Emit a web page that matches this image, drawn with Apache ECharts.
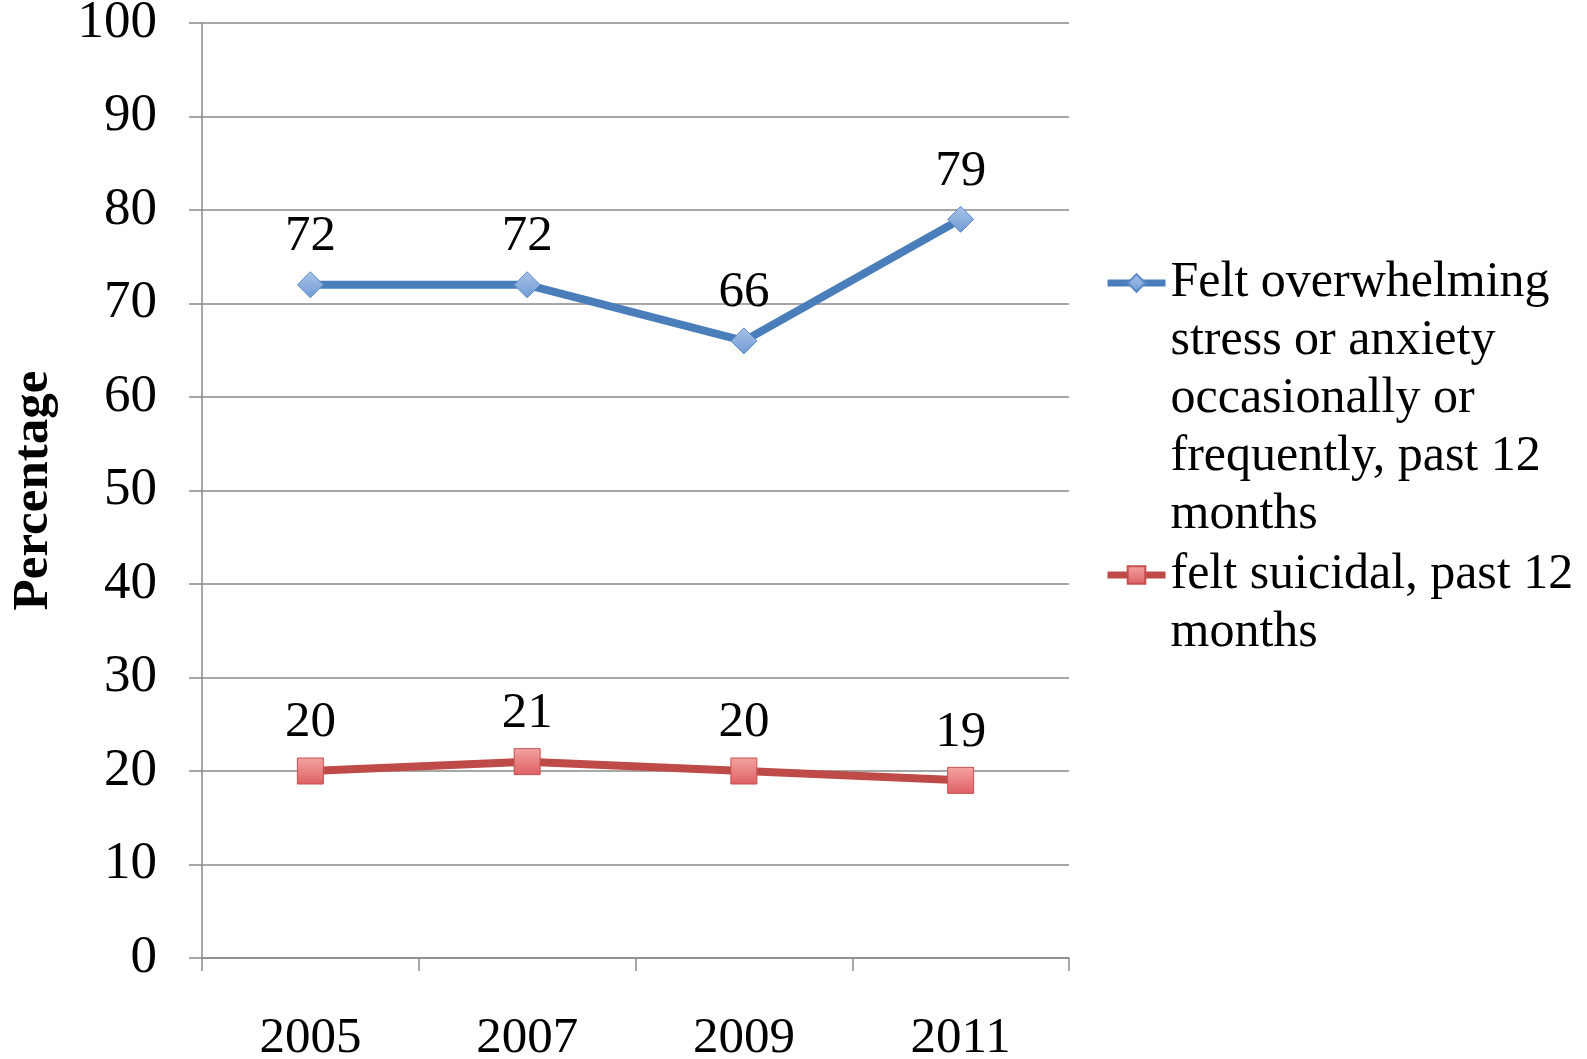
<!DOCTYPE html>
<html>
<head>
<meta charset="utf-8">
<script src="https://cdn.jsdelivr.net/npm/echarts@6/dist/echarts.min.js"></script>
<style>html,body{margin:0;padding:0;background:#fff;}#c{width:1587px;height:1059px;}</style>
</head>
<body>
<div id="c"></div>
<script>
var categories = ['2005', '2007', '2009', '2011'];
var stressValues = [72, 72, 66, 79];
var suicidalValues = [20, 21, 20, 19];
var stressName = 'Felt overwhelming\nstress or anxiety\noccasionally or\nfrequently, past 12\nmonths';
var suicidalName = 'felt suicidal, past 12\nmonths';
var yTicks = [0, 10, 20, 30, 40, 50, 60, 70, 80, 90, 100];

var FONT = 'Liberation Serif';
var FS = 51;
var chart = echarts.init(document.getElementById('c'));
var gridColor = '#8a8a8a';

function padTop(name) {
  var n = name.split('\n').length - 1;
  var pre = '';
  for (var i = 0; i < n; i++) pre += ' \n';
  return pre + name;
}

chart.setOption({
  backgroundColor: '#ffffff',
  animation: false,
  grid: { left: 202, right: 518, top: 23, bottom: 101, containLabel: false, outerBoundsMode: 'none' },
  legend: [
    {
      data: [stressName],
      left: 1104, top: 22, padding: 0,
      itemWidth: 58, itemHeight: 22,
      formatter: padTop,
      lineStyle: { width: 7 },
      textStyle: { fontFamily: FONT, fontSize: 50, color: '#000', lineHeight: 58 }
    },
    {
      data: [suicidalName],
      left: 1104, top: 488, padding: 0,
      itemWidth: 58, itemHeight: 22,
      formatter: padTop,
      lineStyle: { width: 7 },
      textStyle: { fontFamily: FONT, fontSize: 50, color: '#000', lineHeight: 58 }
    }
  ],
  xAxis: {
    type: 'category',
    data: categories,
    boundaryGap: true,
    axisLine: { show: true, lineStyle: { color: gridColor, width: 1.5 } },
    axisTick: { show: true, length: 13, lineStyle: { color: gridColor, width: 1.5 } },
    axisLabel: { fontFamily: FONT, fontSize: FS, color: '#000', margin: 55 },
    splitLine: { show: false }
  },
  yAxis: {
    type: 'value',
    min: 0, max: 100, interval: 10,
    name: 'Percentage',
    nameLocation: 'middle',
    nameGap: 143,
    nameRotate: 90,
    nameTextStyle: { fontFamily: FONT, fontSize: 51, fontWeight: 'bold', color: '#000' },
    axisLine: { show: true, lineStyle: { color: gridColor, width: 1.5 } },
    axisTick: { show: true, length: 13, lineStyle: { color: gridColor, width: 1.5 } },
    axisLabel: {
      fontFamily: FONT, fontSize: 53, color: '#000', margin: 45,
      formatter: function (v) { return yTicks.indexOf(v) >= 0 ? String(v) : ''; }
    },
    splitLine: { show: true, lineStyle: { color: gridColor, width: 1.5 } }
  },
  series: [
    {
      name: stressName,
      type: 'line',
      data: stressValues,
      symbol: 'diamond',
      symbolSize: 26,
      lineStyle: { color: '#4A7EBB', width: 8 },
      itemStyle: {
        color: new echarts.graphic.LinearGradient(0, 0, 0, 1, [
          { offset: 0, color: '#a9c4e8' },
          { offset: 1, color: '#6f9bd4' }
        ]),
        borderColor: '#5b8ac6', borderWidth: 1
      },
      label: { show: true, position: 'top', distance: 9, fontFamily: FONT, fontSize: FS, color: '#000' }
    },
    {
      name: suicidalName,
      type: 'line',
      data: suicidalValues,
      symbol: 'rect',
      symbolSize: 26,
      lineStyle: { color: '#BE4B48', width: 8 },
      itemStyle: {
        color: new echarts.graphic.LinearGradient(0, 0, 0, 1, [
          { offset: 0, color: '#f4a3a3' },
          { offset: 1, color: '#de5f62' }
        ]),
        borderColor: '#c4504e', borderWidth: 1
      },
      label: { show: true, position: 'top', distance: 9, fontFamily: FONT, fontSize: FS, color: '#000' }
    }
  ]
});
</script>
</body>
</html>
